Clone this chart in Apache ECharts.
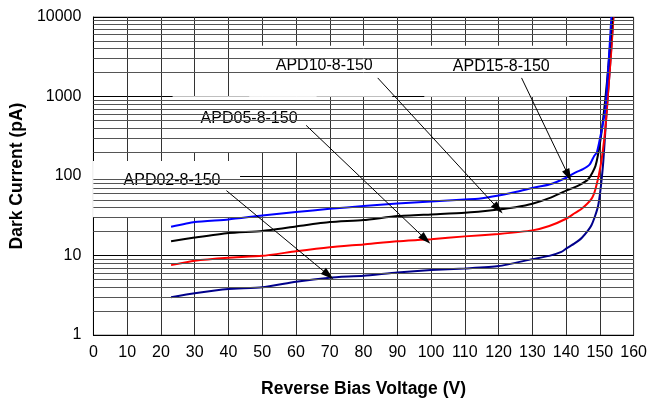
<!DOCTYPE html>
<html><head><meta charset="utf-8">
<script src="https://cdn.jsdelivr.net/npm/echarts@6/dist/echarts.min.js"></script>
<style>html,body{margin:0;padding:0;background:#fff}#c{width:650px;height:403px}</style>
</head><body><div id="c"></div>
<script>
// ---- data ----
const xTicks = [0,10,20,30,40,50,60,70,80,90,100,110,120,130,140,150,160];
const yTicks = [1,10,100,1000,10000];

const vApd15 = [23,30,40,50,60,70,80,90,100,110,114,120,125,130,135,140,143,145,147,148.3,149.1,150.4,151.6,152.5,153.4];
const iApd15 = [23,26.4,28.4,31.9,35.2,38.7,41.8,45,47.7,50.6,51.6,56.7,63,70.8,78,95,112,122,140,179,198,355,690,2370,10000];

const vApd10 = [23,30,40,50,60,70,80,90,100,110,120,125,130,135,140,143.6,146.6,148.7,150.2,151.6,152.5,153.7];
const iApd10 = [15.1,16.8,19.2,20.4,23.2,26.3,27.9,31.3,32.9,34.5,38,40.5,44.7,52.7,65.5,75.7,91.7,134,290,920,2370,10000];

const vApd05 = [23,30,40,50,60,70,80,90,100,110,120,130,135,140,142.5,144.6,147.5,148.7,150.2,151.6,152.5,153.4,154];
const iApd05 = [7.57,8.58,9.35,9.9,11.3,12.7,13.8,15.1,16,17.4,18.7,20.7,23.5,29,34,38.7,51.6,68.8,133,386,1230,3870,10000];

const vApd02 = [23,30,40,50,60,70,80,90,100,110,120,130,135,138.6,140,142.5,144.6,147.5,149.5,150.9,151.9,153,154];
const iApd02 = [2.99,3.35,3.79,3.98,4.69,5.26,5.57,6.13,6.55,6.88,7.36,9.0,9.9,11.1,12.2,14.2,16.6,24,42.6,133,562,2370,10000];

const labelNames = ['APD02-8-150','APD05-8-150','APD10-8-150','APD15-8-150'];
const labelAtV = [21.66, 44.78, 67.32, 119.47];
const labelAtI = [68.8, 446.7, 2084, 2084];

const arrowFromV = [39.4, 63.0, 84.2, 126.8];
const arrowFromI = [65.5, 434, 1713, 1713];
const arrowToV = [69.6, 98.4, 119.9, 140.7];
const arrowToI = [5.67, 16.0, 38.7, 101];

// ---- styles ----
const FONT = 'Liberation Sans, Arial, sans-serif';
const boxSizes = [[147,56],[144,56],[143,51],[145,51]];
const textOffsets = [[5.5,-8],[4.5,-6],[3.5,-5.5],[4.5,-5]];

const pairs = (xs, ys) => xs.map((x, i) => [x, ys[i]]);

// minor horizontal grid lines 2..9 per decade
const minorLines = [];
for (let d = 0; d < yTicks.length - 1; d++) {
  for (let m = 2; m <= 9; m++) minorLines.push({ yAxis: m * yTicks[d] });
}

const chart = echarts.init(document.getElementById('c'), null, { renderer: 'canvas' });
chart.setOption({
  animation: false,
  textStyle: { fontFamily: FONT },
  grid: { left: 93, right: 15, top: 17, bottom: 66, show: true, borderColor: '#888', borderWidth: 1 },
  xAxis: {
    type: 'value', min: 0, max: 160, interval: 10,
    axisLine: { lineStyle: { color: '#000', width: 1 } },
    axisTick: { show: false },
    axisLabel: { fontSize: 16, color: '#000', margin: 10, fontFamily: FONT },
    splitLine: { show: true, lineStyle: { color: '#333', width: 1 } },
    name: 'Reverse Bias Voltage (V)', nameLocation: 'middle', nameGap: 45,
    nameTextStyle: { fontSize: 17.5, fontWeight: 'bold', color: '#000', fontFamily: FONT }
  },
  yAxis: {
    type: 'log', logBase: 10, min: 1, max: 10000,
    axisLine: { show: true, lineStyle: { color: '#000', width: 1 } },
    axisTick: { show: false },
    axisLabel: { fontSize: 16, color: '#000', margin: 12, fontFamily: FONT,
      formatter: v => String(Math.round(v)) },
    splitLine: { show: true, lineStyle: { color: '#000', width: 1 } },
    name: 'Dark Current (pA)', nameLocation: 'middle', nameGap: 65, nameRotate: 90,
    nameTextStyle: { fontSize: 17.5, fontWeight: 'bold', color: '#000', fontFamily: FONT }
  },
  series: [
    {
      name: 'grid', type: 'line', data: [], z: 1, silent: true,
      markLine: {
        silent: true, symbol: ['none', 'none'], animation: false,
        label: { show: false },
        lineStyle: { color: '#555', width: 1, type: 'solid' },
        data: minorLines
      }
    },
    {
      name: 'boxes', type: 'scatter', z: 2, silent: true, symbol: 'rect',
      itemStyle: { color: '#fff', opacity: 1 },
      data: labelNames.map((n, i) => ({
        value: [labelAtV[i], labelAtI[i]],
        symbolSize: boxSizes[i],
        label: { show: true, position: 'inside', formatter: n, offset: textOffsets[i],
          fontSize: 16, color: '#000', fontFamily: FONT }
      }))
    },
    { name: 'APD02-8-150', type: 'line', z: 3, data: pairs(vApd02, iApd02), showSymbol: false, smooth: 0.2,
      lineStyle: { color: '#00008B', width: 2 } },
    { name: 'APD05-8-150', type: 'line', z: 3, data: pairs(vApd05, iApd05), showSymbol: false, smooth: 0.2,
      lineStyle: { color: '#FF0000', width: 2 } },
    { name: 'APD10-8-150', type: 'line', z: 3, data: pairs(vApd10, iApd10), showSymbol: false, smooth: 0.2,
      lineStyle: { color: '#000000', width: 2 } },
    { name: 'APD15-8-150', type: 'line', z: 3, data: pairs(vApd15, iApd15), showSymbol: false, smooth: 0.2,
      lineStyle: { color: '#0000FF', width: 2 } },
    {
      name: 'arrows', type: 'line', data: [], z: 4, silent: true,
      markLine: {
        silent: true, symbol: ['none', 'triangle'], symbolSize: [8, 13], animation: false,
        label: { show: false },
        lineStyle: { color: '#000', width: 1, type: 'solid' },
        data: arrowFromV.map((v, i) => [
          { coord: [v, arrowFromI[i]] },
          { coord: [arrowToV[i], arrowToI[i]] }
        ])
      }
    }
  ]
});
</script>
</body></html>
